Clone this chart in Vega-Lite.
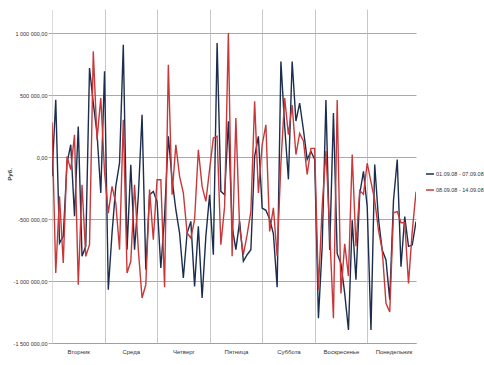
{
  "$schema": "https://vega.github.io/schema/vega-lite/v6.json",
  "width": 364,
  "height": 334,
  "autosize": "none",
  "padding": {"left": 52, "top": 9, "right": 68, "bottom": 22},
  "background": "white",
  "data": {"values": [
    {"i":0,"a":-156000,"b":280000},{"i":1,"a":462000,"b":-935000},{"i":2,"a":-694000,"b":-317000},{"i":3,"a":-640000,"b":-855000},
    {"i":4,"a":-48000,"b":5000},{"i":5,"a":99000,"b":-102000},{"i":6,"a":-478000,"b":180000},{"i":7,"a":247000,"b":-1030000},
    {"i":8,"a":-801000,"b":-223000},{"i":9,"a":-720000,"b":-801000},{"i":10,"a":718000,"b":-707000},{"i":11,"a":435000,"b":852000},
    {"i":12,"a":190000,"b":140000},{"i":13,"a":-290000,"b":476000},{"i":14,"a":691000,"b":-120000},{"i":15,"a":-1070000,"b":-452000},
    {"i":16,"a":-613000,"b":-237000},{"i":17,"a":-237000,"b":-371000},{"i":18,"a":-48000,"b":-747000},{"i":19,"a":906000,"b":301000},
    {"i":20,"a":-747000,"b":-935000},{"i":21,"a":-62000,"b":-841000},{"i":22,"a":-747000,"b":-223000},{"i":23,"a":-317000,"b":-747000},
    {"i":24,"a":341000,"b":-1137000},{"i":25,"a":-909000,"b":-1030000},{"i":26,"a":-304000,"b":-263000},{"i":27,"a":-277000,"b":-667000},
    {"i":28,"a":-360000,"b":-183000},{"i":29,"a":-895000,"b":-183000},{"i":30,"a":-478000,"b":-1050000},{"i":31,"a":167000,"b":745000},
    {"i":32,"a":-180000,"b":-304000},{"i":33,"a":-425000,"b":99000},{"i":34,"a":-613000,"b":-156000},{"i":35,"a":-976000,"b":-290000},
    {"i":36,"a":-613000,"b":-613000},{"i":37,"a":-519000,"b":-653000},{"i":38,"a":-1043000,"b":-505000},{"i":39,"a":-559000,"b":59000},
    {"i":40,"a":-1137000,"b":-237000},{"i":41,"a":-640000,"b":-358000},{"i":42,"a":-304000,"b":-100000},{"i":43,"a":-788000,"b":153000},
    {"i":44,"a":919000,"b":167000},{"i":45,"a":-277000,"b":-707000},{"i":46,"a":-304000,"b":-398000},{"i":47,"a":288000,"b":1000000},
    {"i":48,"a":-559000,"b":-801000},{"i":49,"a":-747000,"b":315000},{"i":50,"a":-519000,"b":-573000},{"i":51,"a":-841000,"b":-788000},
    {"i":52,"a":-788000,"b":-626000},{"i":53,"a":-747000,"b":-438000},{"i":54,"a":5000,"b":449000},{"i":55,"a":167000,"b":-290000},
    {"i":56,"a":-411000,"b":99000},{"i":57,"a":-430000,"b":260000},{"i":58,"a":-500000,"b":-600000},{"i":59,"a":-620000,"b":-410000},
    {"i":60,"a":-1050000,"b":-800000},{"i":61,"a":770000,"b":-50000},{"i":62,"a":250000,"b":476000},{"i":63,"a":-180000,"b":180000},
    {"i":64,"a":770000,"b":420000},{"i":65,"a":290000,"b":20000},{"i":66,"a":435000,"b":190000},{"i":67,"a":220000,"b":130000},
    {"i":68,"a":-20000,"b":-140000},{"i":69,"a":46000,"b":70000},{"i":70,"a":-20000,"b":70000},{"i":71,"a":-1300000,"b":-1070000},
    {"i":72,"a":-720000,"b":-400000},{"i":73,"a":460000,"b":50000},{"i":74,"a":-750000,"b":-600000},{"i":75,"a":355000,"b":-1300000},
    {"i":76,"a":-780000,"b":460000},{"i":77,"a":-860000,"b":-1100000},{"i":78,"a":-1100000,"b":-700000},{"i":79,"a":-1395000,"b":-960000},
    {"i":80,"a":-510000,"b":20000},{"i":81,"a":-990000,"b":-720000},{"i":82,"a":-300000,"b":-270000},{"i":83,"a":-116000,"b":-300000},
    {"i":84,"a":-400000,"b":-50000},{"i":85,"a":-1395000,"b":-200000},{"i":86,"a":-60000,"b":-350000},{"i":87,"a":-500000,"b":-590000},
    {"i":88,"a":-750000,"b":-750000},{"i":89,"a":-830000,"b":-1180000},{"i":90,"a":-1150000,"b":-1250000},{"i":91,"a":-350000,"b":-450000},
    {"i":92,"a":-20000,"b":-440000},{"i":93,"a":-885000,"b":-530000},{"i":94,"a":-480000,"b":-530000},{"i":95,"a":-720000,"b":-1020000},
    {"i":96,"a":-710000,"b":-600000},{"i":97,"a":-520000,"b":-280000}
  ]},
  "transform": [{"fold": ["a", "b"], "as": ["s", "v"]}],
  "mark": {"type": "line", "strokeWidth": 1.4, "clip": true},
  "encoding": {
    "x": {
      "field": "i", "type": "quantitative",
      "scale": {"domain": [0, 97], "nice": false, "zero": false},
      "axis": {
        "title": null,
        "values": [0, 7, 14, 21, 28, 35, 42, 49, 56, 63, 70, 77, 84, 91],
        "labelExpr": "datum.value % 14 === 7 ? ['Вторник','Среда','Четверг','Пятница','Суббота','Воскресенье','Понедельник'][floor(datum.value / 14)] : ''",
        "grid": true,
        "gridColor": "#c8c8c8",
        "gridWidth": 1,
        "gridOpacity": {"condition": {"test": "datum.value % 14 === 0 && datum.value > 0", "value": 1}, "value": 0},
        "ticks": false,
        "domain": true,
        "domainColor": "#a0a0a0",
        "labelOverlap": false,
        "labelFlush": false,
        "labelBound": false,
        "labelPadding": 5,
        "labelFontSize": 6,
        "labelFont": "Liberation Sans",
        "labelColor": "#333333"
      }
    },
    "y": {
      "field": "v", "type": "quantitative",
      "scale": {"domain": [-1500000, 1194000], "nice": false, "zero": false},
      "axis": {
        "title": "Руб.",
        "titleFontSize": 6,
        "titleFontWeight": "bold",
        "titleFont": "Liberation Sans",
        "titleColor": "#333333",
        "titleAngle": 270,
        "titleX": -43,
        "titleY": 165,
        "titleAlign": "center",
        "titleBaseline": "middle",
        "values": [-1500000, -1000000, -500000, 0, 500000, 1000000],
        "format": ",.2f",
        "grid": true,
        "gridColor": "#aaaaaa",
        "gridWidth": 1,
        "domain": true,
        "domainColor": "#bbbbbb",
        "domainDash": [1, 1],
        "ticks": true,
        "tickSize": 4,
        "tickColor": "#aaaaaa",
        "labelPadding": 1,
        "labelFontSize": 5.5,
        "labelFont": "Liberation Sans",
        "labelColor": "#333333"
      }
    },
    "color": {
      "field": "s", "type": "nominal",
      "scale": {"domain": ["a", "b"], "range": ["#1c2d4d", "#c8383a"]},
      "legend": {
        "title": null,
        "orient": "none",
        "legendX": 373,
        "legendY": 160,
        "symbolType": "stroke",
        "symbolSize": 64,
        "symbolStrokeWidth": 1.5,
        "rowPadding": 7,
        "labelOffset": 1,
        "labelFontSize": 5.5,
        "labelFont": "Liberation Sans",
        "labelColor": "#333333",
        "labelExpr": "datum.label === 'a' ? '01.09.08 - 07.09.08' : '08.09.08 - 14.09.08'"
      }
    }
  },
  "config": {
    "view": {"stroke": null},
    "locale": {"number": {"decimal": ",", "thousands": " ", "grouping": [3], "currency": ["", ""], "minus": "-"}}
  }
}
